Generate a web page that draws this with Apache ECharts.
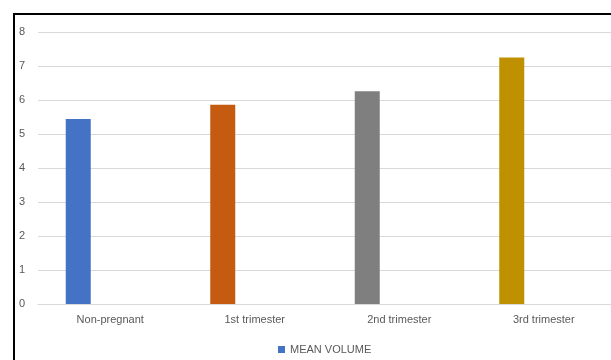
<!DOCTYPE html>
<html>
<head>
<meta charset="utf-8">
<script src="https://cdn.jsdelivr.net/npm/echarts@6/dist/echarts.min.js"></script>
<style>
  html, body { margin: 0; padding: 0; background: #fff; overflow: hidden; }
  #chart { width: 624px; height: 360px; }
</style>
</head>
<body>
<div id="chart"></div>
<script>
// Mean volume by pregnancy stage
const categories = ['Non-pregnant', '1st trimester', '2nd trimester', '3rd trimester'];
const meanVolume = [5.44, 5.86, 6.26, 7.25];
const barColors = ['#4472C4', '#C55A11', '#7F7F7F', '#BF9000'];
const yTicks = { min: 0, max: 8, interval: 1 };

const chart = echarts.init(document.getElementById('chart'), null, { renderer: 'canvas' });

const textFont = { fontFamily: 'Liberation Sans', fontSize: 11, color: '#595959' };

chart.setOption({
  animation: false,
  backgroundColor: '#fff',
  grid: { left: 38, right: 8, top: 32, bottom: 56, containLabel: false },
  graphic: [{
    type: 'rect',
    shape: { x: 14, y: 14, width: 800, height: 600 },
    style: { fill: 'none', stroke: '#000', lineWidth: 2 },
    silent: true,
    z: 100
  }],
  legend: {
    data: ['MEAN VOLUME'],
    bottom: 0,
    left: 273,
    itemWidth: 7,
    itemHeight: 7,
    itemGap: 4,
    icon: 'rect',
    textStyle: textFont
  },
  xAxis: {
    type: 'category',
    data: categories,
    axisLine: { show: true, lineStyle: { color: '#D9D9D9' } },
    axisTick: { show: false },
    axisLabel: Object.assign({ margin: 10 }, textFont)
  },
  yAxis: {
    type: 'value',
    min: yTicks.min,
    max: yTicks.max,
    interval: yTicks.interval,
    axisLine: { show: false },
    axisTick: { show: false },
    axisLabel: Object.assign({ margin: 13 }, textFont),
    splitLine: { lineStyle: { color: '#D9D9D9' } }
  },
  series: [
    {
      name: 'MEAN VOLUME',
      type: 'bar',
      barWidth: 25,
      barGap: '156%',
      itemStyle: { color: barColors[0] },
      data: meanVolume.map((v, i) => ({ value: v, itemStyle: { color: barColors[i] } }))
    },
    {
      name: 'spacer',
      type: 'bar',
      barWidth: 25,
      data: categories.map(() => null)
    }
  ]
});
</script>
</body>
</html>
